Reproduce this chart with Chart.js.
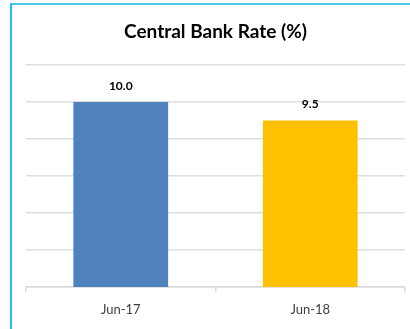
<!DOCTYPE html>
<html>
<head>
<meta charset="utf-8">
<script src="https://cdn.jsdelivr.net/npm/chart.js@4"></script>
<style>
  html, body { margin: 0; padding: 0; background: #fff; }
  #wrap { position: relative; width: 410px; height: 329px; overflow: hidden; }
  #frame {
    position: absolute; left: 10px; top: 3px; width: 420px; height: 340px;
    border-left: 2px solid #1fc0f5; border-top: 2px solid #4cc8f0;
    box-sizing: border-box; pointer-events: none;
  }
  canvas { position: absolute; left: 0; top: 0; }
</style>
</head>
<body>
<div id="wrap">
  <canvas id="chart" width="410" height="329"></canvas>
  <div id="frame"></div>
</div>
<script>
const categories = ['Jun-17', 'Jun-18'];
const rates = [10.0, 9.5];
const barColors = ['#4f81bd', '#ffc000'];
const yMin = 5, yMax = 11, yStep = 1;

const FONT = 'Lato, "Liberation Sans", sans-serif';

// Writes each bar's value just above its top edge
const valueLabels = {
  id: 'valueLabels',
  afterDatasetsDraw(chart) {
    const ctx = chart.ctx;
    const meta = chart.getDatasetMeta(0);
    ctx.save();
    ctx.font = 'bold 12px ' + FONT;
    ctx.fillStyle = '#000';
    ctx.textAlign = 'center';
    ctx.textBaseline = 'middle';
    meta.data.forEach((bar, i) => {
      ctx.fillText(rates[i].toFixed(1), bar.x, bar.y - 16);
    });
    ctx.restore();
  }
};

new Chart(document.getElementById('chart'), {
  type: 'bar',
  data: {
    labels: categories,
    datasets: [{
      data: rates,
      backgroundColor: barColors,
      borderWidth: 0,
      barPercentage: 0.5,
      categoryPercentage: 1.0
    }]
  },
  options: {
    responsive: false,
    animation: false,
    devicePixelRatio: 1,
    layout: { padding: { left: 26, right: 5, top: 0, bottom: 0 } },
    plugins: {
      legend: { display: false },
      tooltip: { enabled: false },
      title: {
        display: true,
        text: 'Central Bank Rate (%)',
        color: '#000',
        font: { family: FONT, size: 19, weight: 'bold', lineHeight: 1.2 },
        padding: { top: 20, bottom: 22.2 }
      }
    },
    scales: {
      x: {
        offset: true,
        grid: {
          display: true,
          drawOnChartArea: false,
          drawTicks: true,
          tickLength: 5,
          color: '#d9d9d9',
          lineWidth: 1.5
        },
        border: { display: true, color: '#d9d9d9', width: 1.5 },
        ticks: {
          color: '#404040',
          font: { family: FONT, size: 13 },
          padding: 10
        },
        afterFit(scale) { scale.height = 42; }
      },
      y: {
        min: yMin,
        max: yMax,
        ticks: { stepSize: yStep, display: false },
        grid: { color: '#dedede', lineWidth: 1.5, drawTicks: false },
        border: { display: false },
        afterFit(scale) { scale.width = 0; }
      }
    }
  },
  plugins: [valueLabels]
});
</script>
</body>
</html>
